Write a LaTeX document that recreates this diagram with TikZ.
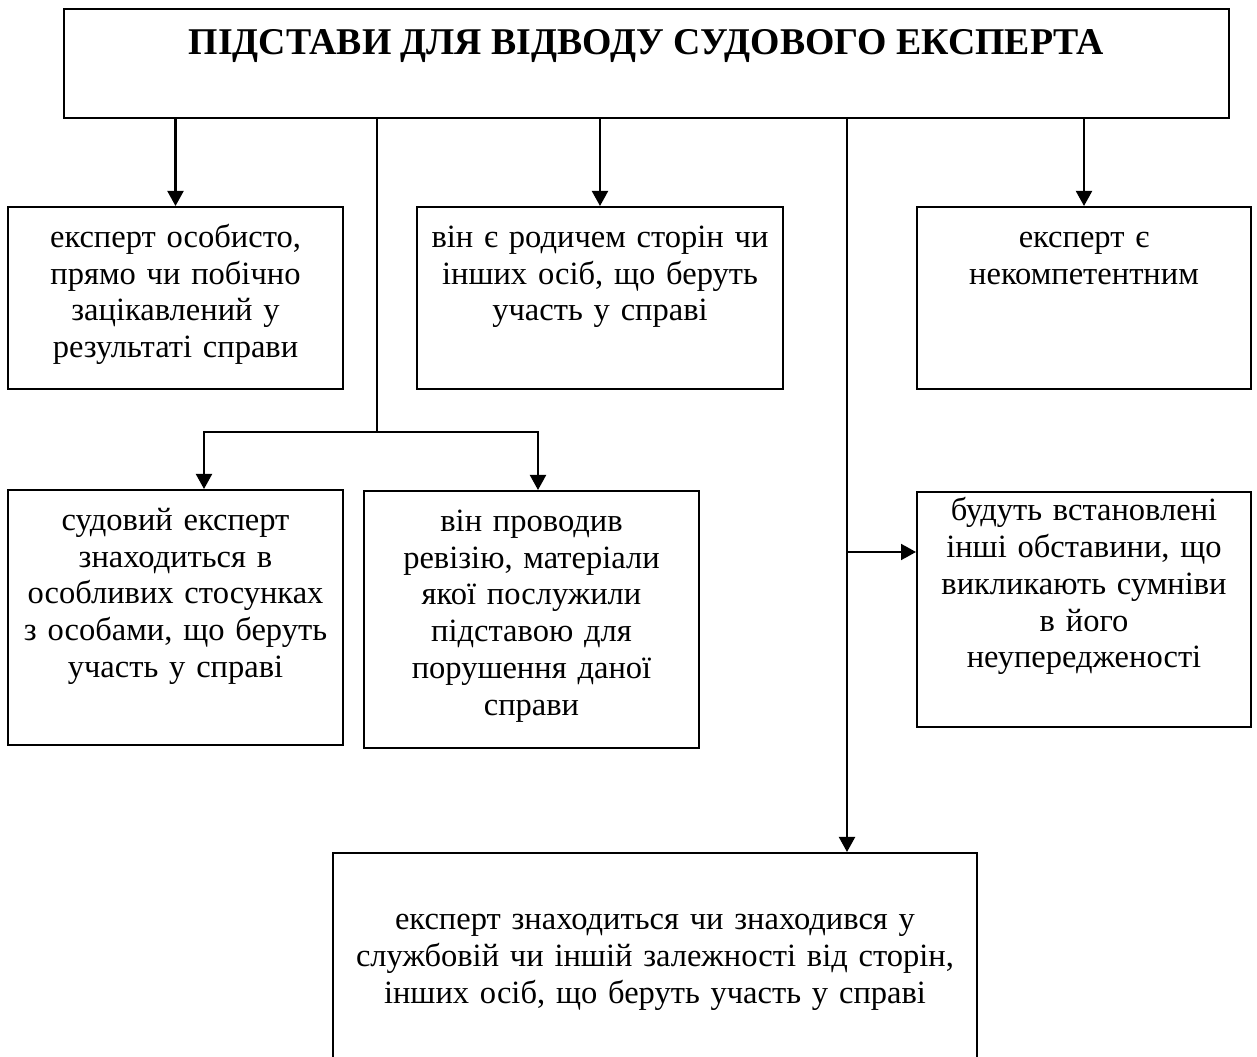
\documentclass[tikz,border=0pt]{standalone}
\usepackage{fontspec}
\setmainfont{Liberation Serif}
\usetikzlibrary{arrows.meta,positioning}

\begin{document}
\begin{tikzpicture}[
			>={Triangle[length=0.3cm,width=0.32cm]},
			line width=1.15pt,
			font=\fontsize{18.5}{20.9}\selectfont,
			block/.style={
				rectangle,
				draw=black,
				inner sep=0pt,
				fill=white
			},
			blocktext/.style={
				anchor=base,
				align=center,
				inner sep=0pt
			}
			]
			\useasboundingbox (0,0) rectangle (25.14,-21.14);
			
			% We start by placing the blocks
			
			\node [block, minimum width=23.3cm, text height=0.92cm, text depth=1.26cm,
				font=\bfseries\fontsize{21.5}{24}\selectfont] (title) at (12.93,-1.27)
			{ПІДСТАВИ ДЛЯ ВІДВОДУ СУДОВОГО ЕКСПЕРТА};
			
			\node [block, minimum width=6.7cm, minimum height=3.64cm] (b1) at (3.51,-5.96) {};
			\node [blocktext, text width=6.5cm] (t1) at ([yshift=-0.83cm]b1.north)
			{експерт особисто,\\ прямо чи побічно\\ зацікавлений у\\ результаті справи};
			
			\node [block, minimum width=7.32cm, minimum height=3.64cm] (b2) at (12.0,-5.96) {};
			\node [blocktext, text width=7.1cm] (t2) at ([yshift=-0.83cm]b2.north)
			{він є родичем сторін чи\\ інших осіб, що беруть\\ участь у справі};
			
			\node [block, minimum width=6.68cm, minimum height=3.64cm] (b3) at (21.68,-5.96) {};
			\node [blocktext, text width=6.5cm] (t3) at ([yshift=-0.83cm]b3.north)
			{експерт є\\ некомпетентним};
			
			\node [block, minimum width=6.7cm, minimum height=5.1cm] (b4) at (3.51,-12.35) {};
			\node [blocktext, text width=6.5cm] (t4) at ([yshift=-0.83cm]b4.north)
			{судовий експерт\\ знаходиться в\\ особливих стосунках\\ з особами, що беруть\\ участь у справі};
			
			\node [block, minimum width=6.7cm, minimum height=5.14cm] (b5) at (10.63,-12.39) {};
			\node [blocktext, text width=6.5cm] (t5) at ([yshift=-0.83cm]b5.north)
			{він проводив\\ ревізію, матеріали\\ якої послужили\\ підставою для\\ порушення даної\\ справи};
			
			\node [block, minimum width=6.68cm, minimum height=4.7cm] (b6) at (21.68,-12.19) {};
			\node [blocktext, text width=6.5cm] (t6) at ([yshift=-0.6cm]b6.north)
			{будуть встановлені\\ інші обставини, що\\ викликають сумніви\\ в його\\ неупередженості};
			
			\node [block, minimum width=12.88cm, minimum height=4.5cm] (b7) at (13.1,-19.31) {};
			\node [blocktext, text width=12.6cm] (t7) at ([yshift=-1.56cm]b7.north)
			{експерт знаходиться чи знаходився у\\ службовій чи іншій залежності від сторін,\\ інших осіб, що беруть участь у справі};
			
			% branch points
			\coordinate (split) at (7.54,-8.64);
			\coordinate (lft) at (4.08,-8.64);
			\coordinate (rgt) at (10.76,-8.64);
			\coordinate (branch) at (16.94,-11.04);
			
			\draw [->] (title.south -| b1.north) -- (b1.north);
			\draw [->] (title.south -| b2.north) -- (b2.north);
			\draw [->] (title.south -| b3.north) -- (b3.north);
			\draw (title.south -| split) -- (split);
			\draw [->] (split) -- (lft) -- (lft |- b4.north);
			\draw [->] (split) -- (rgt) -- (rgt |- b5.north);
			\draw [->] (title.south -| branch) -- (branch |- b7.north);
			\draw [->] (branch) -- (branch -| b6.west);
			
\end{tikzpicture}
\end{document}
